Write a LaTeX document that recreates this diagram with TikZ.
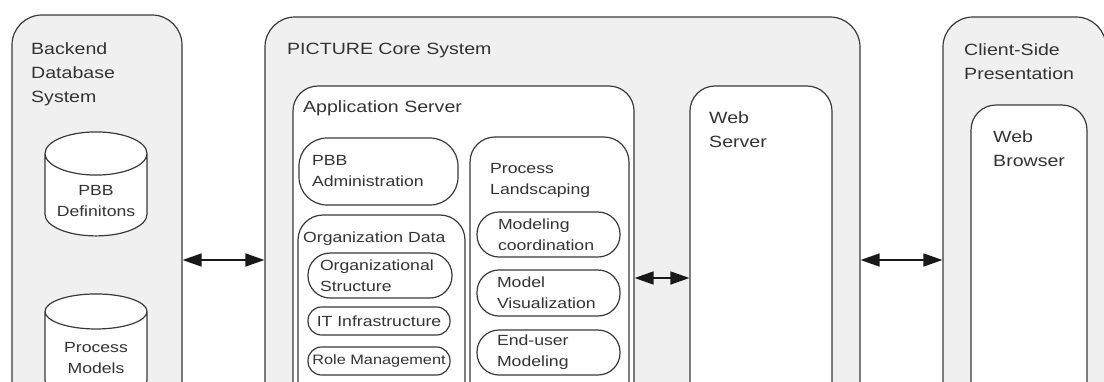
\documentclass[tikz,border=0pt]{standalone}
\usepackage{fontspec}
\setmainfont{Liberation Sans}[FakeStretch=1.2]
\usetikzlibrary{shapes.geometric, arrows.meta}

\definecolor{boxgray}{HTML}{F0F0F0}
\definecolor{linegray}{HTML}{3A3A3A}
\definecolor{textgray}{HTML}{333333}

\newcommand\tierfont{\fontsize{16.3}{24}\selectfont}
\newcommand\partfont{\fontsize{14.7}{21}\selectfont}

\begin{document}
\begin{tikzpicture}[x=1pt, y=-1pt,
    tier/.style={draw=linegray, line width=1.2pt, fill=boxgray, rounded corners=30pt, inner sep=0pt},
    server/.style={draw=linegray, line width=1.2pt, fill=white, rounded corners=25pt, inner sep=0pt},
    module/.style={draw=linegray, line width=1.2pt, fill=white, align=left, font=\partfont, text=textgray, inner sep=0pt},
    dbstore/.style={cylinder, shape border rotate=90, aspect=0.55, draw=linegray, line width=1.2pt, fill=white, minimum width=102pt, minimum height=104pt, inner sep=0pt, align=center, font=\partfont},
    dbtext/.style={align=center, font=\partfont, text=textgray, inner sep=0pt},
    heading/.style={anchor=north west, align=left, inner sep=0pt, font=\tierfont, text=textgray},
    subheading/.style={heading, font=\partfont},
    link/.style={{Triangle[length=19pt,width=13pt]}-{Triangle[length=19pt,width=13pt]}, line width=1.6pt, draw=black!90}
]
\useasboundingbox (0,0) rectangle (1104,381);
\clip (0,0) rectangle (1104,381);

\node[tier, minimum width=170pt, minimum height=490pt] (backend) at (97,260) {};
\node[tier, minimum width=595pt, minimum height=486pt] (core) at (562.5,260) {};
\node[tier, minimum width=163pt, minimum height=486pt] (client) at (1024.5,260) {};

\node[server, minimum width=341pt, minimum height=384pt] (appserver) at (463.5,278) {};
\node[server, minimum width=142pt, minimum height=384pt] (webserver) at (761,278) {};
\node[server, minimum width=116pt, minimum height=420pt] (browser) at (1029,315) {};

\node[module, rounded corners=28pt, minimum width=159pt, minimum height=67pt, text width=133pt] (pbbadmin) at (378.5,171.5) {PBB\\Administration};
\node[server, minimum width=159pt, minimum height=280pt] (landscaping) at (549.5,277) {};
\node[server, minimum width=167pt, minimum height=220pt] (orgdata) at (381.5,325) {};

\node[module, rounded corners=22pt, minimum width=144pt, minimum height=45pt, text width=120pt] (orgstructure) at (380,275.5) {Organizational\\Structure};
\node[module, rounded corners=13.5pt, minimum width=142pt, minimum height=28pt] (itinfra) at (379,321) {IT Infrastructure};
\node[module, rounded corners=13.5pt, minimum width=142pt, minimum height=28pt, font=\fontsize{13.6}{16}\selectfont] (rolemgmt) at (379,361) {Role Management};

\node[module, rounded corners=22pt, minimum width=143pt, minimum height=45pt, text width=101pt] (modelcoord) at (548.5,234.5) {Modeling\\coordination};
\node[module, rounded corners=22pt, minimum width=143pt, minimum height=46pt, text width=103pt] (modelvis) at (548.5,293) {Model\\Visualization};
\node[module, rounded corners=22pt, minimum width=143pt, minimum height=45pt, text width=103pt] (enduser) at (548.5,352.5) {End-user\\Modeling};

% the cylinders keep a phantom of their text so the end caps get their size
\node[dbstore] (pbbdefs) at (96,195) {\phantom{PBB}\\\phantom{Definitons}};
\node[dbtext] (pbbdefstext) at (96,201) {PBB\\Definitons};
\node[dbstore] (procmodels) at (96,355) {\phantom{Process}\\\phantom{Models}};
\node[dbtext] (procmodelstext) at (96,358) {Process\\Models};

\node[heading] (backendtitle) at (31,42) {Backend\\Database\\System};
\node[heading] (coretitle) at (287,43) {PICTURE Core System};
\node[heading] (apptitle) at (303,100) {Application Server};
\node[heading] (webtitle) at (709,111) {Web\\Server};
\node[heading] (clienttitle) at (964,43) {Client-Side\\Presentation};
\node[heading] (browsertitle) at (993,130) {Web\\Browser};
\node[subheading] (landtitle) at (490,163) {Process\\Landscaping};
\node[subheading] (orgtitle) at (303,232) {Organization Data};

\draw[link] (backend) -- (core);
\draw[link] (appserver) -- (webserver);
\draw[link] (core) -- (client);

\end{tikzpicture}
\end{document}
